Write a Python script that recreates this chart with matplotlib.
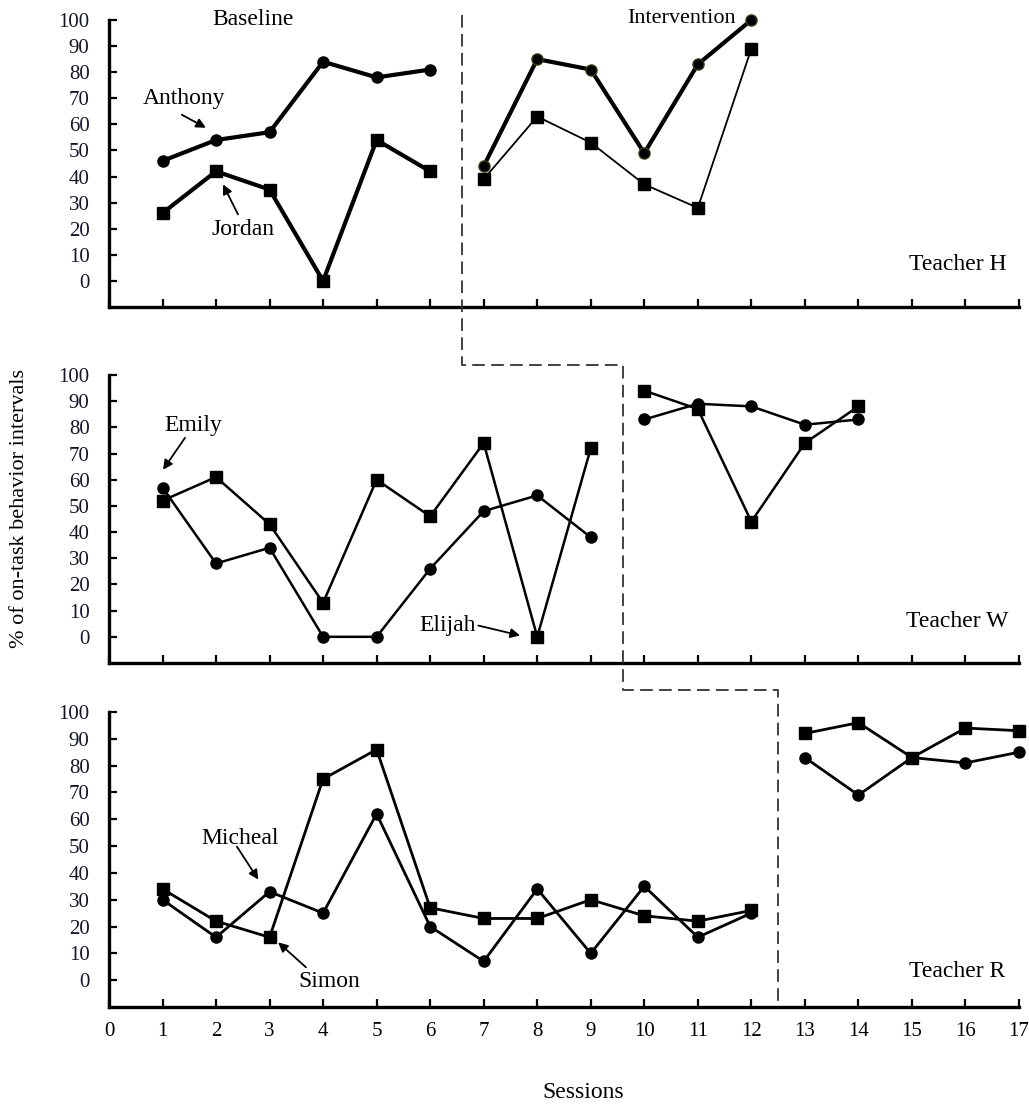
import matplotlib
matplotlib.use('Agg')
import matplotlib.pyplot as plt
from matplotlib.lines import Line2D
from matplotlib.transforms import blended_transform_factory

plt.rcParams['font.family'] = ['Liberation Serif', 'DejaVu Serif']

# --- Teacher H ---
h_base_x = [1, 2, 3, 4, 5, 6]
h_int_x = [7, 8, 9, 10, 11, 12]
anthony_base = [46, 54, 57, 84, 78, 81]
anthony_int = [44, 85, 81, 49, 83, 100]
jordan_base = [26, 42, 35, 0, 54, 42]
jordan_int = [39, 63, 53, 37, 28, 89]

# --- Teacher W ---
w_base_x = [1, 2, 3, 4, 5, 6, 7, 8, 9]
w_int_x = [10, 11, 12, 13, 14]
emily_base = [57, 28, 34, 0, 0, 26, 48, 54, 38]
emily_int = [83, 89, 88, 81, 83]
elijah_base = [52, 61, 43, 13, 60, 46, 74, 0, 72]
elijah_int = [94, 87, 44, 74, 88]

# --- Teacher R ---
r_base_x = [1, 2, 3, 4, 5, 6, 7, 8, 9, 10, 11, 12]
r_int_x = [13, 14, 15, 16, 17]
micheal_base = [30, 16, 33, 25, 62, 20, 7, 34, 10, 35, 16, 25]
micheal_int = [83, 69, 83, 81, 85]
simon_base = [34, 22, 16, 75, 86, 27, 23, 23, 30, 24, 22, 26]
simon_int = [92, 96, 83, 94, 93]

# phase change lines (between sessions)
phase_x = [6.6, 9.6, 12.5]

sessions = list(range(0, 18))
y_ticks = list(range(0, 101, 10))

fig = plt.figure(figsize=(10.29, 11.10), dpi=100)
left, width = 0.1059, 0.8844
ax1 = fig.add_axes([left, 0.7234, width, 0.2586])
ax2 = fig.add_axes([left, 0.4027, width, 0.2595])
ax3 = fig.add_axes([left, 0.0928, width, 0.2658])

for ax in (ax1, ax2, ax3):
    ax.set_xlim(0, 17)
    ax.set_ylim(-10, 100)
    ax.spines['top'].set_visible(False)
    ax.spines['right'].set_visible(False)
    ax.spines['left'].set_linewidth(2.4)
    ax.spines['bottom'].set_linewidth(2.4)
    ax.spines['left'].set_bounds(-10, 100)
    ax.set_yticks(y_ticks)
    ax.set_xticks(sessions)
    ax.tick_params(direction='in', length=6, width=1.6, labelsize=15, colors='k')
    ax.tick_params(axis='y', pad=14)
    ax.tick_params(axis='x', pad=11)
    for lab in ax.get_yticklabels():
        lab.set_color('#15152a')

ax1.tick_params(axis='x', labelbottom=False)
ax2.tick_params(axis='x', labelbottom=False)


def series(ax, x, y, marker, lw, ms, mec='k'):
    ax.plot(x, y, color='k', lw=lw, marker=marker, ms=ms, mfc='k', mec=mec, clip_on=False)


# Teacher H
series(ax1, h_base_x, anthony_base, 'o', 3.0, 8)
series(ax1, h_base_x, jordan_base, 's', 3.0, 9)
series(ax1, h_int_x, anthony_int, 'o', 3.0, 8, mec='#3a3a10')
series(ax1, h_int_x, jordan_int, 's', 1.3, 9)

# Teacher W
series(ax2, w_base_x, emily_base, 'o', 1.8, 8)
series(ax2, w_base_x, elijah_base, 's', 1.8, 9)
series(ax2, w_int_x, emily_int, 'o', 1.8, 8)
series(ax2, w_int_x, elijah_int, 's', 1.8, 9)

# Teacher R
series(ax3, r_base_x, micheal_base, 'o', 2.0, 8)
series(ax3, r_base_x, simon_base, 's', 2.0, 9)
series(ax3, r_int_x, micheal_int, 'o', 2.0, 8)
series(ax3, r_int_x, simon_int, 's', 2.0, 9)

arrow = dict(arrowstyle='-|>', color='k', lw=1.3, mutation_scale=14, shrinkA=0, shrinkB=0)


def label(ax, txt, tx, ty, tail=None, head=None, size=17):
    ax.text(tx, ty, txt, fontsize=size, ha='center', va='center')
    if tail is not None:
        ax.annotate('', xy=head, xytext=tail, arrowprops=arrow)


label(ax1, 'Baseline', 2.7, 100)
label(ax1, 'Intervention', 10.7, 100.5, size=16)
label(ax1, 'Teacher H', 15.85, 6.4)
label(ax1, 'Anthony', 1.4, 70, (1.36, 63.7), (1.81, 58.7))
label(ax1, 'Jordan', 2.5, 19.8, (2.41, 25.5), (2.13, 37))

label(ax2, 'Emily', 1.57, 80.6, (1.42, 76), (1.01, 63.8))
label(ax2, 'Elijah', 6.32, 4.3, (6.9, 4.3), (7.68, 0.5))
label(ax2, 'Teacher W', 15.85, 6)

label(ax3, 'Micheal', 2.45, 52.8, (2.39, 49.8), (2.79, 37.5))
label(ax3, 'Simon', 4.11, -0.4, (3.68, 4.8), (3.16, 14.1))
label(ax3, 'Teacher R', 15.85, 3.3)

# stepped phase-change line running through all three panels
trans = blended_transform_factory(ax1.transData, fig.transFigure)
px = [phase_x[0], phase_x[0], phase_x[1], phase_x[1], phase_x[2], phase_x[2]]
py = [0.9865, 0.6712, 0.6712, 0.3784, 0.3784, 0.0928]
fig.add_artist(Line2D(px, py, transform=trans, color='#333333', lw=1.3,
                      ls=(0, (7, 3.5))))

fig.text(0.019, 1 - 508 / 1110, '% of on-task behavior intervals', rotation=90,
         ha='center', va='center', fontsize=16)
fig.text(583 / 1029, 1 - 1093 / 1110, 'Sessions', ha='center', va='center', fontsize=17)

fig.savefig('out.png', dpi=100)
